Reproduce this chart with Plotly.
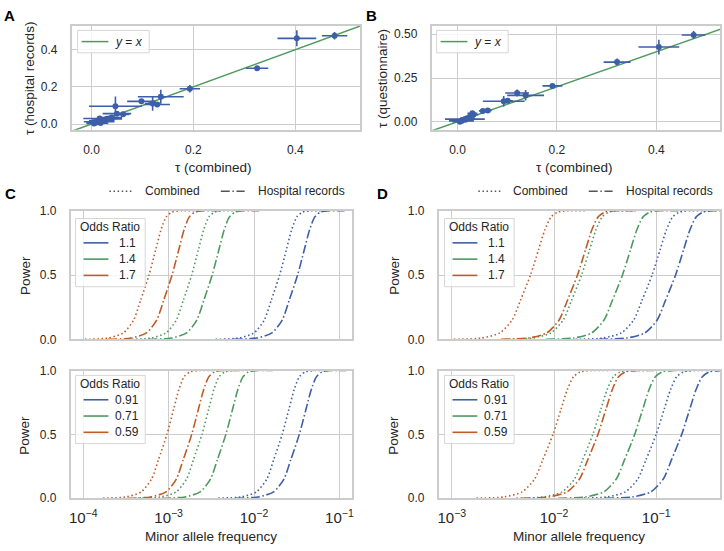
import numpy as np
import plotly.graph_objects as go

W, H = 724, 551
FONT = "Liberation Sans, Arial, Helvetica, sans-serif"
TXT = "#262626"
BLUE = "#3D5FA8"
GREEN = "#4E9A5E"
ORANGE = "#BF5B25"
GRID = "#CCCCCC"
OR_COLORS = [BLUE, GREEN, ORANGE]

# ---------------- Panel A: tau hospital records vs combined ----------------
A_TAU_COMBINED = [0.477, 0.403, 0.325, 0.193, 0.136, 0.098, 0.120, 0.129, 0.047, 0.050, 0.062,
                  0.005, 0.010, 0.015, 0.020, 0.025, 0.030, 0.035, 0.040, 0.016, 0.018]
A_TAU_HOSPITAL = [0.475, 0.461, 0.300, 0.190, 0.147, 0.122, 0.110, 0.105, 0.096, 0.056, 0.052,
                  0.003, 0.008, 0.012, 0.018, 0.022, 0.028, 0.030, 0.035, 0.030, 0.005]
A_ERR_COMBINED = [0.025, 0.038, 0.022, 0.020, 0.045, 0.028, 0.015, 0.025, 0.052, 0.028, 0.012,
                  0.015, 0.020, 0.030, 0.025, 0.020, 0.030, 0.015, 0.020, 0.032, 0.015]
A_ERR_HOSPITAL = [0.020, 0.043, 0.010, 0.020, 0.038, 0.008, 0.038, 0.010, 0.052, 0.012, 0.005,
                  0.005, 0.010, 0.008, 0.010, 0.012, 0.010, 0.015, 0.010, 0.006, 0.012]

# ---------------- Panel B: tau questionnaire vs combined ----------------
B_TAU_COMBINED = [0.475, 0.405, 0.321, 0.191, 0.120, 0.137, 0.093, 0.101, 0.051, 0.061,
                  0.030, 0.015, 0.005, 0.010, 0.015, 0.020, 0.025, 0.032, 0.008]
B_TAU_QUEST = [0.496, 0.427, 0.341, 0.205, 0.164, 0.151, 0.117, 0.120, 0.062, 0.065,
               0.049, 0.015, 0.000, 0.010, 0.015, 0.020, 0.030, 0.040, 0.005]
B_ERR_COMBINED = [0.024, 0.041, 0.027, 0.020, 0.024, 0.037, 0.042, 0.010, 0.008, 0.008,
                  0.010, 0.040, 0.015, 0.020, 0.010, 0.015, 0.010, 0.010, 0.025]
B_ERR_QUEST = [0.023, 0.042, 0.020, 0.010, 0.020, 0.030, 0.030, 0.008, 0.006, 0.006,
               0.010, 0.008, 0.010, 0.008, 0.010, 0.010, 0.010, 0.008, 0.008]

IDENTITY = [-0.1, 0.6]

# ---------------- Panels C / D: power curves ----------------
POWER_LEVELS = [0, 0.01, 0.05, 0.15, 0.30, 0.50, 0.70, 0.85, 0.95, 0.99, 1.0, 1.0]
OR_RISK = ["1.1", "1.4", "1.7"]
OR_PROTECT = ["0.91", "0.71", "0.59"]

# log10(minor allele frequency) at each power level
C_TOP_COMBINED = [
    [-2.45, -2.18, -2.00, -1.88, -1.80, -1.70, -1.62, -1.56, -1.50, -1.43, -1.32, -1.15],
    [-3.48, -3.21, -3.03, -2.91, -2.83, -2.73, -2.65, -2.59, -2.53, -2.46, -2.35, -2.18],
    [-3.98, -3.71, -3.53, -3.41, -3.33, -3.23, -3.15, -3.09, -3.03, -2.96, -2.85, -2.68],
]
C_TOP_HOSPITAL = [
    [-2.24, -1.97, -1.79, -1.67, -1.59, -1.49, -1.41, -1.35, -1.29, -1.22, -1.11, -0.94],
    [-3.24, -2.97, -2.79, -2.67, -2.59, -2.49, -2.41, -2.35, -2.29, -2.22, -2.11, -1.94],
    [-3.71, -3.44, -3.26, -3.14, -3.06, -2.96, -2.88, -2.82, -2.76, -2.69, -2.58, -2.41],
]
C_BOT_COMBINED = [
    [-2.42, -2.15, -1.97, -1.85, -1.77, -1.67, -1.59, -1.53, -1.47, -1.40, -1.29, -1.12],
    [-3.36, -3.09, -2.91, -2.79, -2.71, -2.61, -2.53, -2.47, -2.41, -2.34, -2.23, -2.06],
    [-3.77, -3.50, -3.32, -3.20, -3.12, -3.02, -2.94, -2.88, -2.82, -2.75, -2.64, -2.47],
]
C_BOT_HOSPITAL = [
    [-2.22, -1.95, -1.77, -1.65, -1.57, -1.47, -1.39, -1.33, -1.27, -1.20, -1.09, -0.92],
    [-3.08, -2.81, -2.63, -2.51, -2.43, -2.33, -2.25, -2.19, -2.13, -2.06, -1.95, -1.78],
    [-3.48, -3.21, -3.03, -2.91, -2.83, -2.73, -2.65, -2.59, -2.53, -2.46, -2.35, -2.18],
]
D_TOP_COMBINED = [
    [-1.79, -1.52, -1.34, -1.22, -1.14, -1.04, -0.96, -0.90, -0.84, -0.77, -0.66, -0.49],
    [-2.48, -2.21, -2.03, -1.91, -1.83, -1.73, -1.65, -1.59, -1.53, -1.46, -1.35, -1.18],
    [-2.98, -2.71, -2.53, -2.41, -2.33, -2.23, -2.15, -2.09, -2.03, -1.96, -1.85, -1.68],
]
D_TOP_HOSPITAL = [
    [-1.56, -1.29, -1.11, -0.99, -0.91, -0.81, -0.73, -0.67, -0.61, -0.54, -0.43, -0.26],
    [-2.08, -1.81, -1.63, -1.51, -1.43, -1.33, -1.25, -1.19, -1.13, -1.06, -0.95, -0.78],
    [-2.52, -2.25, -2.07, -1.95, -1.87, -1.77, -1.69, -1.63, -1.57, -1.50, -1.39, -1.22],
]
D_BOT_COMBINED = [
    [-1.75, -1.48, -1.30, -1.18, -1.10, -1.00, -0.92, -0.86, -0.80, -0.73, -0.62, -0.45],
    [-2.37, -2.10, -1.92, -1.80, -1.72, -1.62, -1.54, -1.48, -1.42, -1.35, -1.24, -1.07],
    [-2.76, -2.49, -2.31, -2.19, -2.11, -2.01, -1.93, -1.87, -1.81, -1.74, -1.63, -1.46],
]
D_BOT_HOSPITAL = [
    [-1.50, -1.23, -1.05, -0.93, -0.85, -0.75, -0.67, -0.61, -0.55, -0.48, -0.37, -0.20],
    [-1.96, -1.69, -1.51, -1.39, -1.31, -1.21, -1.13, -1.07, -1.01, -0.94, -0.83, -0.66],
    [-2.32, -2.05, -1.87, -1.75, -1.67, -1.57, -1.49, -1.43, -1.37, -1.30, -1.19, -1.02],
]

DOT = "1.5px,2.6px"
DASHDOT = "9px,2.6px,1.5px,2.6px"


def px(x):
    return x / W


def py(y):
    return 1 - y / H


fig = go.Figure()

# ---- scatter panels ----
for (xs, ys, ex, ey, xa, ya) in [
    (A_TAU_COMBINED, A_TAU_HOSPITAL, A_ERR_COMBINED, A_ERR_HOSPITAL, "x", "y"),
    (B_TAU_COMBINED, B_TAU_QUEST, B_ERR_COMBINED, B_ERR_QUEST, "x2", "y2"),
]:
    fig.add_trace(go.Scatter(x=IDENTITY, y=IDENTITY, mode="lines",
                             line=dict(color=GREEN, width=1.5),
                             xaxis=xa, yaxis=ya, showlegend=False, hoverinfo="skip"))
    fig.add_trace(go.Scatter(
        x=xs, y=ys, mode="markers",
        marker=dict(color=BLUE, size=6),
        error_x=dict(type="data", array=ex, width=0, thickness=1.6, color=BLUE),
        error_y=dict(type="data", array=ey, width=0, thickness=1.6, color=BLUE),
        xaxis=xa, yaxis=ya, showlegend=False))

# ---- power panels ----
power_sets = [
    (C_TOP_COMBINED, C_TOP_HOSPITAL, "x3", "y3"),
    (C_BOT_COMBINED, C_BOT_HOSPITAL, "x4", "y4"),
    (D_TOP_COMBINED, D_TOP_HOSPITAL, "x5", "y5"),
    (D_BOT_COMBINED, D_BOT_HOSPITAL, "x6", "y6"),
]
for comb, hosp, xa, ya in power_sets:
    for i in range(3):
        for logs, dash in [(comb[i], DOT), (hosp[i], DASHDOT)]:
            fig.add_trace(go.Scatter(
                x=np.power(10.0, np.array(logs)), y=POWER_LEVELS, mode="lines",
                line=dict(color=OR_COLORS[i], width=1.6, dash=dash, shape="spline", smoothing=0.7),
                xaxis=xa, yaxis=ya, showlegend=False, hoverinfo="skip"))

# ---- axes ----
def base_axis(**kw):
    d = dict(showgrid=True, gridcolor=GRID, gridwidth=1.3, zeroline=False,
             showline=True, linecolor=GRID, linewidth=1.5, mirror=True, ticks="",
             tickfont=dict(family=FONT, size=12, color=TXT))
    d.update(kw)
    return d


A_DOM_X = [px(70), px(360)]
B_DOM_X = [px(432), px(722)]
AB_DOM_Y = [py(126), py(19)]
C_DOM_X = [px(69), px(352)]
D_DOM_X = [px(439), px(722)]
TOP_DOM_Y = [py(341), py(209)]
BOT_DOM_Y = [py(504), py(373)]

layout_axes = dict(
    xaxis=base_axis(domain=A_DOM_X, anchor="y", range=[-0.039, 0.527],
                    tickvals=[0, 0.2, 0.4], ticktext=["0.0", "0.2", "0.4"], ticklabelstandoff=8),
    yaxis=base_axis(domain=AB_DOM_Y, anchor="x", range=[-0.031, 0.53],
                    tickvals=[0, 0.2, 0.4], ticktext=["0.0", "0.2", "0.4"], ticklabelstandoff=10),
    xaxis2=base_axis(domain=B_DOM_X, anchor="y2", range=[-0.052, 0.528],
                     tickvals=[0, 0.2, 0.4], ticktext=["0.0", "0.2", "0.4"], ticklabelstandoff=8),
    yaxis2=base_axis(domain=AB_DOM_Y, anchor="x2", range=[-0.046, 0.55],
                     tickvals=[0, 0.25, 0.5], ticktext=["0.00", "0.25", "0.50"], ticklabelstandoff=10),
)
for n, dom_x, dom_y, rng, show in [
    (3, C_DOM_X, TOP_DOM_Y, [-4.148, -0.852], False),
    (4, C_DOM_X, BOT_DOM_Y, [-4.148, -0.852], True),
    (5, D_DOM_X, TOP_DOM_Y, [-3.13, -0.375], False),
    (6, D_DOM_X, BOT_DOM_Y, [-3.13, -0.375], True),
]:
    layout_axes[f"xaxis{n}"] = base_axis(domain=dom_x, anchor=f"y{n}", type="log", range=rng,
                                         dtick=1, exponentformat="power", showticklabels=show,
                                         ticklabelstandoff=6)
    layout_axes[f"yaxis{n}"] = base_axis(domain=dom_y, anchor=f"x{n}", range=[0, 1],
                                         tickvals=[0, 0.5, 1], ticktext=["0.0", "0.5", "1.0"],
                                         ticklabelstandoff=10)

shapes = []
annotations = []


def text(x, y, s, size=12, xanchor="center", angle=0, bold=False):
    annotations.append(dict(x=px(x), y=py(y), xref="paper", yref="paper", text=(f"<b>{s}</b>" if bold else s),
                            showarrow=False, xanchor=xanchor, yanchor="middle", textangle=angle,
                            font=dict(family=FONT, size=size, color=TXT if not bold else "#000")))


def hline(x0, x1, y, color, dash="solid", width=1.6):
    shapes.append(dict(type="line", xref="paper", yref="paper", x0=px(x0), x1=px(x1),
                       y0=py(y), y1=py(y), line=dict(color=color, width=width, dash=dash)))


def box(x0, y0, x1, y1):
    shapes.append(dict(type="rect", xref="paper", yref="paper", x0=px(x0), x1=px(x1),
                       y0=py(y1), y1=py(y0), fillcolor="rgba(255,255,255,0.82)",
                       line=dict(color="#D6D6D6", width=1)))


# panel letters
text(8, 9, "A", 15, bold=True)
text(372, 9, "B", 15, bold=True)
text(9, 191, "C", 15, bold=True)
text(383, 191, "D", 15, bold=True)

# axis titles
text(213, 165, "τ (combined)", 13.5)
text(576, 165, "τ (combined)", 13.5)
text(27, 73, "τ (hospital records)", 13.5, angle=-90)
text(382, 73, "τ (questionnaire)", 13.5, angle=-90)
text(210, 543, "Minor allele frequency", 13.5)
text(580, 543, "Minor allele frequency", 13.5)
for xx in (23, 394):
    text(xx, 275, "Power", 13.5, angle=-90)
    text(xx, 439, "Power", 13.5, angle=-90)

# y = x legends
for bx in (76, 437):
    box(bx, 24, bx + 72, 47)
    hline(bx + 4, bx + 31, 35.5, GREEN, width=1.5)
    text(bx + 36, 35.5, "<i>y</i> = <i>x</i>", 12, xanchor="left")

# header legends
for (d0, c0, dd0, h0) in [(108, 142, 220, 255), (479, 512, 590, 625)]:
    hline(d0, d0 + 24, 189, "#555555", dash=DOT, width=1.5)
    text(c0, 189, "Combined", 12, xanchor="left")
    hline(dd0, dd0 + 24, 189, "#555555", dash=DASHDOT, width=1.5)
    text(h0, 189, "Hospital records", 12, xanchor="left")

# odds ratio legends
for bx in (74, 445):
    for top, labels in [(217, OR_RISK), (378, OR_PROTECT)]:
        box(bx, top, bx + 70, top + 70)
        text(bx + 35, top + 9, "Odds Ratio", 12)
        for k, lab in enumerate(labels):
            yy = top + 25 + 16.7 * k
            hline(bx + 8, bx + 33, yy, OR_COLORS[k], width=1.6)
            text(bx + 52, yy, lab, 12)

fig.update_layout(
    width=W, height=H, margin=dict(l=0, r=0, t=0, b=0),
    paper_bgcolor="white", plot_bgcolor="white",
    font=dict(family=FONT, size=12, color=TXT),
    showlegend=False, shapes=shapes, annotations=annotations,
    **layout_axes,
)

fig.write_html("out.html", config={"displayModeBar": False},
               post_script="document.body.style.margin='0';document.body.style.padding='0';")
